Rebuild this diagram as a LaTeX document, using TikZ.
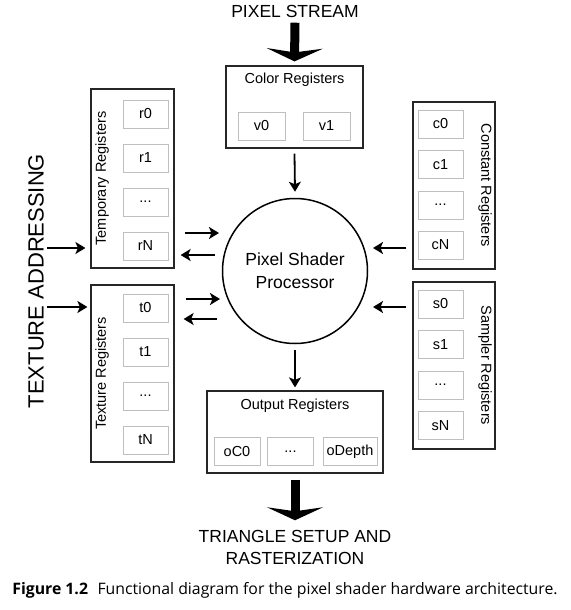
\documentclass[tikz,border=0pt]{standalone}
\usepackage{fontspec}
\setmainfont{Liberation Sans}
\newfontfamily\capfont{Open Sans}
\usetikzlibrary{arrows.meta}

\tikzset{
  regbox/.style={draw=black!85, line width=1.2pt, inner sep=0pt},
  cell/.style={draw=gray!50, line width=0.8pt, minimum width=45pt, minimum height=28pt, inner sep=0pt, font=\fontsize{14.5}{16}\selectfont},
  boxtitle/.style={font=\fontsize{14.5}{16}\selectfont},
  bigtext/.style={font=\fontsize{17.5}{22}\selectfont, align=center},
  flow/.style={-{Stealth[length=10pt,width=12pt,inset=2.5pt]}, line width=1.8pt},
  bigflow/.style={-{Stealth[length=13pt,width=56pt,inset=4pt]}, line width=9pt},
}

\begin{document}
\begin{tikzpicture}[x=1pt,y=-1pt]
  \useasboundingbox (0,0) rectangle (570,610);

  % Processor in the middle
  \node[circle, draw, line width=1.5pt, minimum size=145pt, align=center,
        font=\fontsize{17.5}{23}\selectfont] (proc) at (295,271) {Pixel Shader\\Processor};

  % Color registers
  \node[regbox, minimum width=137pt, minimum height=82pt] (color) at (294.5,107) {};
  \node[boxtitle] (colortitle) at (294.5,80) {Color Registers};
  \node[cell, minimum width=47pt] (v0) at (261.5,126) {v0};
  \node[cell, minimum width=47pt] (v1) at (326.5,126) {v1};

  % Temporary registers
  \node[regbox, minimum width=83pt, minimum height=179pt] (temp) at (132.5,178.5) {};
  \node[boxtitle, rotate=90] (templabel) at (102,178.5) {Temporary Registers};
  \node[cell] (r0) at (145.5,114) {r0};
  \node[cell] (r1) at (145.5,158) {r1};
  \node[cell] (rdots) at (145.5,202) {...};
  \node[cell] (rN) at (145.5,246) {rN};

  % Texture registers
  \node[regbox, minimum width=83pt, minimum height=177pt] (tex) at (132.5,373.5) {};
  \node[boxtitle, rotate=90] (texlabel) at (102,373.5) {Texture Registers};
  \node[cell] (t0) at (145.5,308) {t0};
  \node[cell] (t1) at (145.5,352) {t1};
  \node[cell] (tdots) at (145.5,396) {...};
  \node[cell] (tN) at (145.5,440) {tN};

  % Constant registers
  \node[regbox, minimum width=82pt, minimum height=167pt] (const) at (454,185.5) {};
  \node[boxtitle, rotate=-90] (constlabel) at (485,185.5) {Constant Registers};
  \node[cell] (c0) at (440.5,124) {c0};
  \node[cell] (c1) at (440.5,164.5) {c1};
  \node[cell] (cdots) at (440.5,205) {...};
  \node[cell] (cN) at (440.5,245) {cN};

  % Sampler registers
  \node[regbox, minimum width=82pt, minimum height=167pt] (samp) at (454,365.5) {};
  \node[boxtitle, rotate=-90] (samplabel) at (485,365.5) {Sampler Registers};
  \node[cell] (s0) at (440.5,304) {s0};
  \node[cell] (s1) at (440.5,344.5) {s1};
  \node[cell] (sdots) at (440.5,385) {...};
  \node[cell] (sN) at (440.5,425.5) {sN};

  % Output registers
  \node[regbox, minimum width=176pt, minimum height=82pt] (out) at (295,432) {};
  \node[boxtitle] (outtitle) at (295,406) {Output Registers};
  \node[cell, minimum width=46pt] (oC0) at (237,451.5) {oC0};
  \node[cell, minimum width=46pt] (odots) at (290.5,451.5) {...};
  \node[cell, minimum width=54pt] (oDepth) at (350,451.5) {oDepth};

  % Outside labels
  \node[bigtext] (stream) at (295,11) {PIXEL STREAM};
  \node[bigtext] (raster) at (295,547) {TRIANGLE SETUP AND\\RASTERIZATION};
  \node[font=\fontsize{22}{24}\selectfont, rotate=90] (texaddr) at (36,281) {TEXTURE ADDRESSING};
  \node[font=\capfont\fontsize{15.8}{18}\selectfont] (caption) at (285,590)
    {\textbf{Figure 1.2}\hspace{0.6em}Functional diagram for the pixel shader hardware architecture.};

  % Rows and columns for the side arrows
  \coordinate (rowA) at (0,248);
  \coordinate (rowB) at (0,307);
  \coordinate (rowC) at (0,233);
  \coordinate (rowD) at (0,255);
  \coordinate (rowE) at (0,299);
  \coordinate (rowF) at (0,319);
  \coordinate (gapL) at (219,0);
  \coordinate (gapR) at (373,0);

  % Big arrows
  \draw[bigflow] ([yshift=-2pt]stream.south) -- ([yshift=4pt]color.north);
  \draw[bigflow] ([yshift=-6pt]out.south) -- ([yshift=6pt]raster.north);

  % Vertical arrows
  \draw[flow] ([yshift=-5pt]color.south) -- ([yshift=6pt]proc.north);
  \draw[flow] ([yshift=-6pt]proc.south) -- ([yshift=3pt]out.north);

  % Texture addressing
  \draw[flow, shorten >=5pt] (texaddr.south |- rowA) -- (temp.west |- rowA);
  \draw[flow, shorten >=3pt] (texaddr.south |- rowB) -- (tex.west |- rowB);

  % Temporary and texture registers to and from the processor
  \draw[flow, shorten <=10pt] (temp.east |- rowC) -- (gapL |- rowC);
  \draw[flow, shorten <=4pt, shorten >=6pt] (gapL |- rowD) -- (temp.east |- rowD);
  \draw[flow, shorten <=11pt] (tex.east |- rowE) -- ([xshift=1pt]gapL |- rowE);
  \draw[flow, shorten <=2pt, shorten >=9pt] (gapL |- rowF) -- (tex.east |- rowF);

  % Constant and sampler registers
  \draw[flow, shorten <=6pt] (const.west |- rowA) -- (gapR |- rowA);
  \draw[flow, shorten <=6pt] (samp.west |- rowB) -- (gapR |- rowB);
\end{tikzpicture}
\end{document}
